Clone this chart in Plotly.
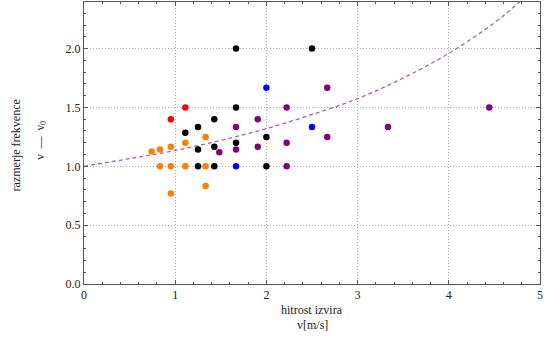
import plotly.graph_objects as go

# --- data ---
orange_x = [0.741, 0.833, 0.952, 1.111, 1.333, 0.833, 0.952, 1.111, 1.333, 0.952, 1.333]
orange_y = [1.125, 1.143, 1.167, 1.200, 1.250, 1.000, 1.000, 1.000, 1.000, 0.769, 0.833]

red_x = [0.952, 1.111]
red_y = [1.400, 1.500]

black_x = [1.667, 2.500, 1.667, 1.429, 1.250, 1.111, 1.250, 1.429, 1.667, 2.000, 1.250, 1.429, 2.000]
black_y = [2.000, 2.000, 1.500, 1.400, 1.333, 1.286, 1.143, 1.167, 1.200, 1.250, 1.000, 1.000, 1.000]

blue_x = [2.000, 2.500, 1.667]
blue_y = [1.667, 1.333, 1.000]

purple_x = [1.905, 2.222, 1.667, 1.484, 1.667, 1.905, 2.222, 2.222, 2.667, 2.667, 3.333, 4.444]
purple_y = [1.400, 1.500, 1.333, 1.120, 1.143, 1.167, 1.200, 1.000, 1.667, 1.250, 1.333, 1.500]

# theoretical curve
curve_x = [0.0, 0.5, 1.0, 1.5, 2.0, 2.5, 3.0, 3.5, 4.0, 4.5, 4.78, 5.0]
curve_y = [1.000, 1.065, 1.135, 1.220, 1.320, 1.440, 1.575, 1.750, 1.960, 2.220, 2.400, 2.560]

x_ticks = [0, 1, 2, 3, 4, 5]
x_labels = ["0", "1", "2", "3", "4", "5"]
y_ticks = [0.0, 0.5, 1.0, 1.5, 2.0]
y_labels = ["0.0", "0.5", "1.0", "1.5", "2.0"]

FONT = "Liberation Serif"

fig = go.Figure()
fig.add_trace(go.Scatter(x=curve_x, y=curve_y, mode="lines", line_shape="spline",
                         line=dict(color="#A466B4", width=1.3, dash="4px,3px"),
                         hoverinfo="skip", showlegend=False))
for xs, ys, col in [(orange_x, orange_y, "#FF8000"), (red_x, red_y, "#FF0000"),
                    (black_x, black_y, "#000000"), (blue_x, blue_y, "#0000FF"),
                    (purple_x, purple_y, "#800080")]:
    fig.add_trace(go.Scatter(x=xs, y=ys, mode="markers",
                             marker=dict(color=col, size=6.5, line=dict(width=0)),
                             showlegend=False))

axis_common = dict(showline=True, linecolor="#555555", linewidth=1, mirror="allticks",
                   ticks="inside", ticklen=4, tickcolor="#555555", zeroline=False,
                   showgrid=True, gridcolor="#B0B0B0", griddash="1px,2px", gridwidth=1,
                   tickfont=dict(family=FONT, size=12, color="#222222"))

fig.update_xaxes(range=[0, 5], tickvals=x_ticks, ticktext=x_labels,
                 minor=dict(dtick=0.2, ticks="inside", ticklen=2, tickcolor="#555555", showgrid=False),
                 **axis_common)
fig.update_yaxes(range=[0, 2.396], tickvals=y_ticks, ticktext=y_labels,
                 minor=dict(dtick=0.1, ticks="inside", ticklen=2, tickcolor="#555555", showgrid=False),
                 **axis_common)

fig.add_annotation(text="hitrost izvira", xref="paper", yref="paper", x=0.5, y=-0.092,
                   showarrow=False, yanchor="middle", font=dict(family=FONT, size=12, color="#222222"))
fig.add_annotation(text="v[m/s]", xref="paper", yref="paper", x=0.5, y=-0.145,
                   showarrow=False, yanchor="middle", font=dict(family=FONT, size=12, color="#222222"))
fig.add_annotation(text="razmerje frekvence", xref="paper", yref="paper", x=-0.15, y=0.49,
                   xanchor="center", yanchor="middle", textangle=-90, showarrow=False,
                   font=dict(family=FONT, size=12, color="#222222"))
fig.add_annotation(text="ν  ―  ν<sub>0</sub>", xref="paper", yref="paper", x=-0.095, y=0.51,
                   xanchor="center", yanchor="middle", textangle=-90, showarrow=False,
                   font=dict(family=FONT, size=12, color="#222222"))

fig.update_layout(width=545, height=339, margin=dict(l=84, r=5, t=2, b=55),
                  plot_bgcolor="white", paper_bgcolor="white")

fig.write_html("out.html")
